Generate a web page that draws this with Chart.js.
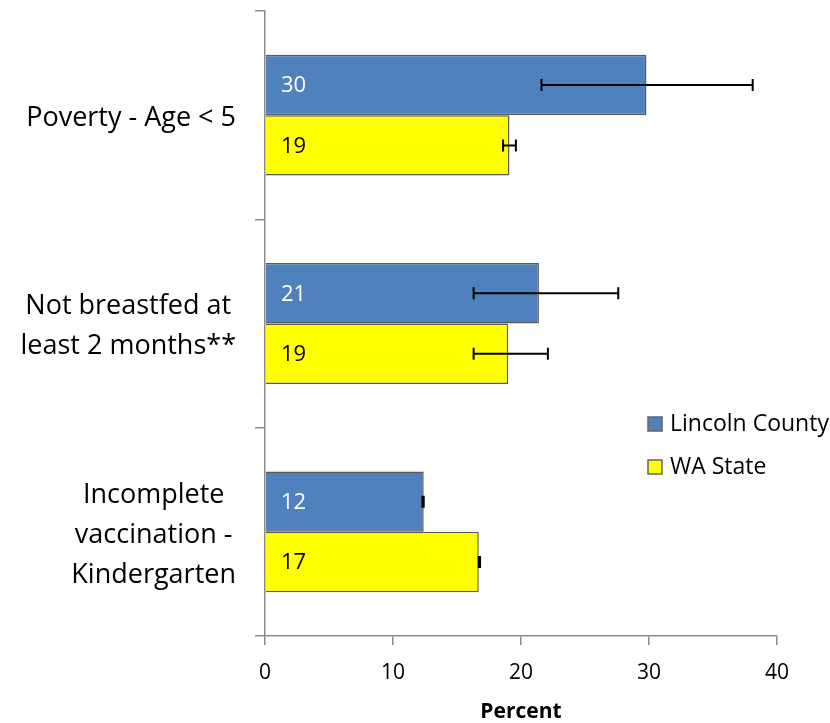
<!DOCTYPE html>
<html>
<head>
<meta charset="utf-8">
<script src="https://cdn.jsdelivr.net/npm/chart.js"></script>
<style>
  html, body { margin: 0; padding: 0; background: #fff; }
  #wrap { width: 830px; height: 723px; position: relative; }
</style>
</head>
<body>
<div id="wrap"><canvas id="c"></canvas></div>
<script>
var FONT = "'Open Sans', 'DejaVu Sans', sans-serif";
var categories = [
  ["Poverty - Age < 5"],
  ["Not breastfed at", "least 2 months**"],
  ["Incomplete", "vaccination -", "Kindergarten"]
];
var seriesNames = ["Lincoln County", "WA State"];
var lincoln = [29.8, 21.4, 12.4];
var waState = [19.1, 19.0, 16.7];
var lincolnLow = [21.6, 16.3, 12.3];
var lincolnHigh = [38.1, 27.6, 12.4];
var waLow = [18.6, 16.3, 16.7];
var waHigh = [19.6, 22.1, 16.8];
var lincolnText = ["30", "21", "12"];
var waText = ["19", "19", "17"];
var xTicks = [0, 10, 20, 30, 40];

var BLUE = "#4f81bd";
var YELLOW = "#ffff00";
var AXIS = "#8c8c8c";

var extras = {
  id: "extras",
  afterDatasetsDraw: function (chart) {
    var ctx = chart.ctx;
    var xs = chart.scales.x;
    var lows = [lincolnLow, waLow];
    var highs = [lincolnHigh, waHigh];
    var texts = [lincolnText, waText];
    var colors = ["#ffffff", "#000000"];
    ctx.save();
    for (var d = 0; d < 2; d++) {
      var meta = chart.getDatasetMeta(d);
      meta.data.forEach(function (bar, i) {
        // value label
        ctx.font = "22px " + FONT;
        ctx.fillStyle = colors[d];
        ctx.textAlign = "left";
        ctx.textBaseline = "middle";
        ctx.fillText(texts[d][i], xs.left + 16, bar.y + 1);
        // error bar
        var x1 = xs.getPixelForValue(lows[d][i]);
        var x2 = xs.getPixelForValue(highs[d][i]);
        ctx.strokeStyle = "#000";
        ctx.lineWidth = 2;
        ctx.beginPath();
        ctx.moveTo(x1, bar.y); ctx.lineTo(x2, bar.y);
        ctx.moveTo(x1, bar.y - 6); ctx.lineTo(x1, bar.y + 6);
        ctx.moveTo(x2, bar.y - 6); ctx.lineTo(x2, bar.y + 6);
        ctx.stroke();
      });
    }
    // category labels: block right aligned, lines centred
    var ys = chart.scales.y;
    ctx.font = "27px " + FONT;
    ctx.fillStyle = "#000";
    ctx.textAlign = "center";
    ctx.textBaseline = "middle";
    categories.forEach(function (lines, i) {
      var widest = 0;
      lines.forEach(function (l) { widest = Math.max(widest, ctx.measureText(l).width); });
      var cx = 236 - widest / 2;
      var cy = ys.getPixelForValue(i) + 3;
      var lh = 40;
      lines.forEach(function (l, k) {
        ctx.fillText(l, cx, cy + (k - (lines.length - 1) / 2) * lh);
      });
    });
    // legend
    var fills = [BLUE, YELLOW];
    ctx.font = "23px " + FONT;
    ctx.textAlign = "left";
    seriesNames.forEach(function (n, i) {
      var y = 424 + i * 43;
      ctx.fillStyle = fills[i];
      ctx.fillRect(648, y - 7, 14, 14);
      ctx.strokeStyle = "#666";
      ctx.lineWidth = 1.5;
      ctx.strokeRect(648, y - 7, 14, 14);
      ctx.fillStyle = "#000";
      ctx.fillText(n, 670, y);
    });
    // x axis title
    ctx.font = "bold 21px " + FONT;
    ctx.textAlign = "center";
    ctx.fillText("Percent", (xs.left + xs.right) / 2, 712);
    ctx.restore();
  }
};

new Chart(document.getElementById("c"), {
  type: "bar",
  data: {
    labels: categories,
    datasets: [
      { label: seriesNames[0], data: lincoln, backgroundColor: BLUE, borderColor: "#5a5a5a", borderWidth: 1.5, categoryPercentage: 0.58, barPercentage: 1 },
      { label: seriesNames[1], data: waState, backgroundColor: YELLOW, borderColor: "#5a5a5a", borderWidth: 1.5, categoryPercentage: 0.58, barPercentage: 1 }
    ]
  },
  options: {
    indexAxis: "y",
    responsive: true,
    maintainAspectRatio: false,
    animation: false,
    layout: { padding: { top: 11, right: 53, left: 0, bottom: 0 } },
    plugins: { legend: { display: false }, tooltip: { enabled: false } },
    scales: {
      x: {
        min: 0, max: 40,
        afterBuildTicks: function (s) { s.ticks = xTicks.map(function (v) { return { value: v }; }); },
        afterFit: function (s) { s.height = 87; },
        grid: { drawOnChartArea: false, color: AXIS, tickLength: 9, lineWidth: 1.5 },
        border: { color: AXIS, width: 1.5 },
        ticks: { color: "#000", font: { family: FONT, size: 21 }, padding: 15 }
      },
      y: {
        afterFit: function (s) { s.width = 265; },
        grid: { drawOnChartArea: false, color: AXIS, tickLength: 10, lineWidth: 1.5, offset: true },
        border: { color: AXIS, width: 1.5 },
        ticks: { display: false }
      }
    }
  },
  plugins: [extras]
});
</script>
</body>
</html>
